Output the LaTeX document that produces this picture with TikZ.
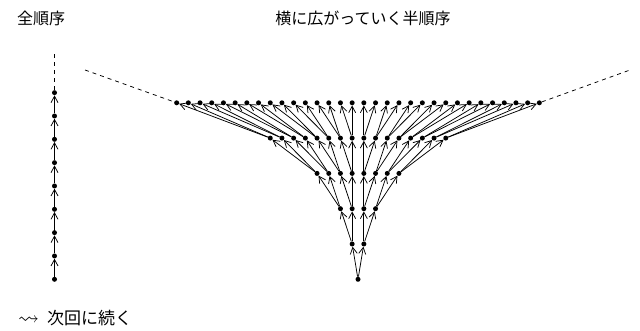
\documentclass[tikz,border=0pt]{standalone}
\usepackage{amsmath,amssymb}
\usepackage{fontspec}
\newfontfamily\cjk{Noto Sans CJK JP}
\usepackage{tikz}
\usetikzlibrary{arrows.meta}

\begin{document}
\begin{tikzpicture}[x=1pt,y=-1pt,>={Straight Barb[length=6.5pt,width=7pt]},
  pt/.style={circle,fill,inner sep=0pt,minimum size=5pt},
  edge/.style={->,line width=0.75pt},
  dashline/.style={line width=0.75pt,dash pattern=on 4pt off 4pt},
  lbl/.style={font=\fontsize{16}{19}\selectfont\cjk,inner sep=0pt}]
  \useasboundingbox (0,0) rectangle (640,331);
  % 見出し
  \node[lbl,anchor=west] (total) at (17,18) {全順序};
  \node[lbl] (partial) at (363,18) {横に広がっていく半順序};
  % 全順序（鎖）
  \foreach \j in {0,...,8}
    \node[pt] (c\j) at (54.5,{279.3-23.33*\j}) {};
  \foreach \j [evaluate=\j as \n using int(\j+1)] in {0,...,7}
    \draw[edge] (c\j) -- (c\n);
  \coordinate (ctop) at (54.5,50);
  \draw[dashline] (c8) -- (ctop);
  % 半順序（二分木）
  \foreach \k in {0,...,5}{
    \pgfmathtruncatemacro{\num}{2^\k-1}
    \foreach \i in {0,...,\num}
      \node[pt] (t\k-\i) at ({358+(\i-\num/2)*11.7},{279.3-35.3*\k}) {};
  }
  \foreach \k in {1,...,5}{
    \pgfmathtruncatemacro{\num}{2^\k-1}
    \pgfmathtruncatemacro{\km}{\k-1}
    \foreach \i in {0,...,\num}{
      \pgfmathtruncatemacro{\p}{floor(\i/2)}
      \draw[edge] (t\km-\p) -- (t\k-\i);
    }
  }
  \coordinate (lend) at (85,70);
  \coordinate (rend) at (630,70);
  \draw[dashline] (lend) -- (t5-0);
  \draw[dashline] (t5-31) -- (rend);
  % 次回
  \node[lbl,anchor=west,font=\fontsize{17}{20}\selectfont\cjk] (next) at (18,318)
    {{\fontsize{21}{21}\selectfont$\leadsto$}\hspace{8pt}次回に続く};
\end{tikzpicture}
\end{document}
